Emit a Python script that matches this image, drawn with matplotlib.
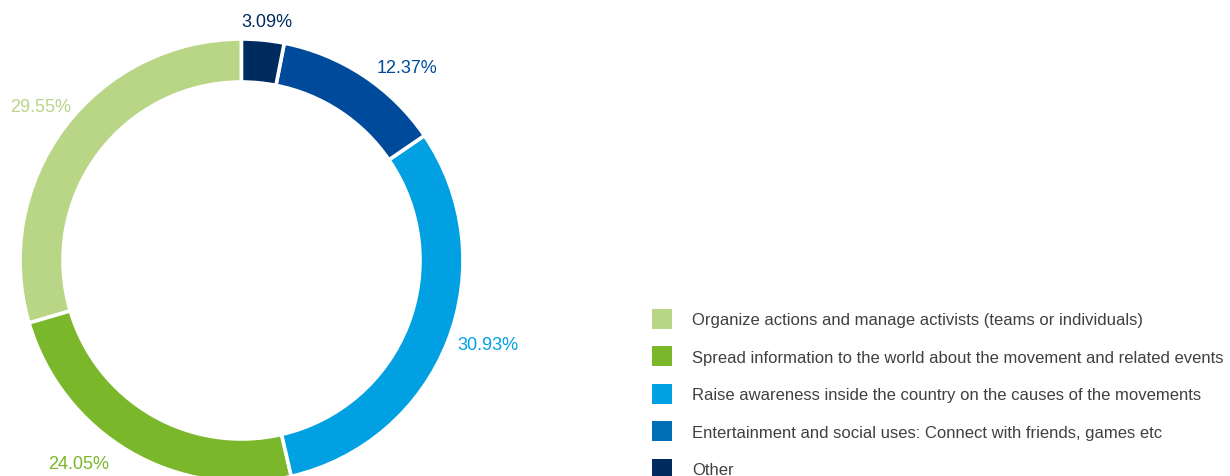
import numpy as np
import matplotlib
matplotlib.use('Agg')
import matplotlib.pyplot as plt
from matplotlib.patches import Patch

# dados
categorias = ['Organize actions and manage activists (teams or individuals)',
              'Spread information to the world about the movement and related events',
              'Raise awareness inside the country on the causes of the movements',
              'Entertainment and social uses: Connect with friends, games etc',
              'Other']
valores = [29.55, 24.05, 30.93, 12.37, 3.09]

cores_fatia   = ['#b9d586', '#7ab72a', '#00a0e2', '#004a9b', '#002b5e']
cores_legenda = ['#b9d586', '#7ab72a', '#00a0e2', '#006eb6', '#002b5e']

plt.rcParams['font.family'] = ['Liberation Sans', 'DejaVu Sans']

W, H = 1230, 477
fig = plt.figure(figsize=(W / 100, H / 100), dpi=100)
ax = fig.add_axes([0, 0, 1, 1])

cx, cy = 241.5, H - 261.5
R, largura = 221.5, 43

wedges, _ = ax.pie(valores, colors=cores_fatia, startangle=90, counterclock=True,
                   center=(cx, cy), radius=R, frame=True,
                   wedgeprops=dict(width=largura, edgecolor='white', linewidth=2.6))

# rótulos de porcentagem
ajuste = [(15, 15), (-16, -3), (0, 0), (8, 0), (3, 0)]
for w, v, cor, (dx, dy) in zip(wedges, valores, cores_fatia, ajuste):
    ang = np.deg2rad((w.theta1 + w.theta2) / 2)
    c, s = np.cos(ang), np.sin(ang)
    x = cx + (R + 10) * c
    y = cy + (R + 10) * s
    ha = 'left' if c > 0.3 else ('right' if c < -0.3 else 'center')
    va = 'bottom' if s > 0.9 else ('top' if s < -0.9 else 'center')
    ax.text(x + dx, y + dy, f'{v:.2f}%', color=cor, fontsize=13, ha=ha, va=va)

ax.set_xlim(0, W)
ax.set_ylim(0, H)
ax.set_aspect('auto')
ax.axis('off')

fs = 12.0
px = fs * 100 / 72
hh = (20 / px - 0.245) / 0.65
handles = [Patch(facecolor=c, edgecolor='none') for c in cores_legenda]
fig.legend(handles, categorias, loc='upper left',
           bbox_to_anchor=(651.5 / W, 1 - 309.5 / H), frameon=False,
           prop={'size': fs}, labelcolor='#404040',
           handlelength=20 / px, handleheight=hh, handletextpad=21 / px,
           labelspacing=17.6 / px, borderpad=0, borderaxespad=0)

fig.savefig('out.png', dpi=100)
